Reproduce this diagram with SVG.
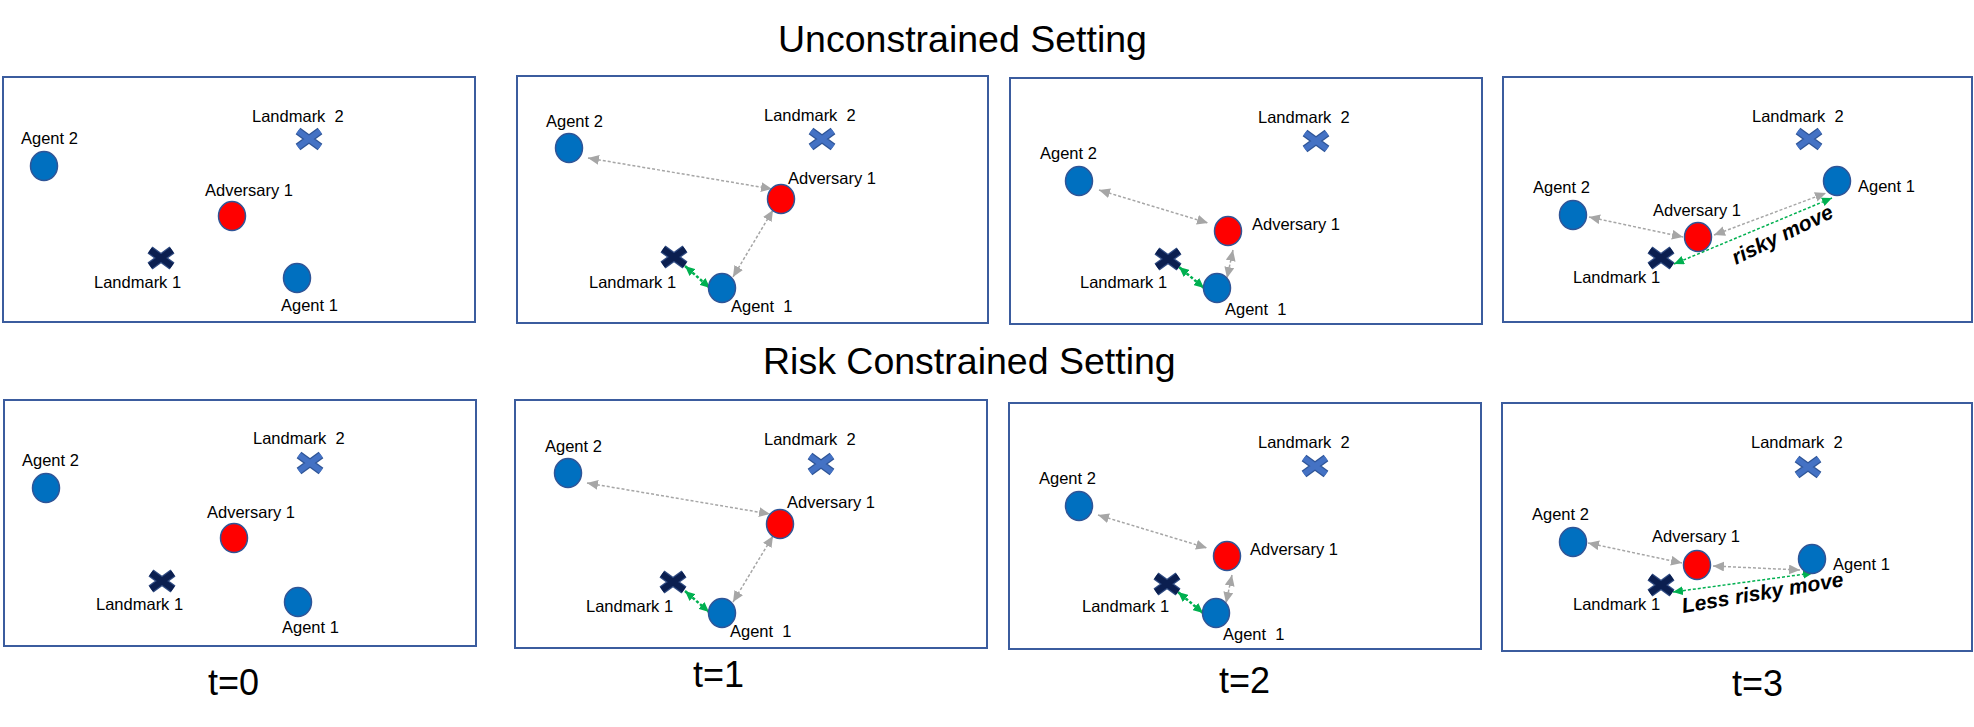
<svg xmlns="http://www.w3.org/2000/svg" width="1974" height="727" viewBox="0 0 1974 727">
<style>
text{font-family:"Liberation Sans",Arial,sans-serif;fill:#000}
.lbl{font-size:16.5px;white-space:pre}
.title{font-size:37.5px}
.tl{font-size:36px}
.bi{font-size:21px;font-weight:bold;font-style:italic}
.panel{fill:#fff;stroke:#3B5C9E;stroke-width:2}
.agent{fill:#0070C0;stroke:#2F5597;stroke-width:1.5}
.adv{fill:#FF0000;stroke:#2F5597;stroke-width:1.5}
.gray{fill:none;stroke:#A6A6A6;stroke-width:1.5;stroke-dasharray:3 2;marker-start:url(#hg);marker-end:url(#hg)}
.green{fill:none;stroke:#00B050;stroke-width:2.5;stroke-dasharray:3 2;marker-start:url(#hgr);marker-end:url(#hgr)}
.green2{fill:none;stroke:#00B050;stroke-width:1.5;stroke-dasharray:3 2;marker-start:url(#hgr);marker-end:url(#hgr)}
</style>
<defs>
<marker id="hg" viewBox="0 0 10 9" refX="10" refY="4.5" markerWidth="11" markerHeight="10" markerUnits="userSpaceOnUse" orient="auto-start-reverse"><path d="M0,0 L10,4.5 L0,9 z" fill="#A6A6A6"/></marker>
<marker id="hgr" viewBox="0 0 10 9" refX="10" refY="4.5" markerWidth="10" markerHeight="9" markerUnits="userSpaceOnUse" orient="auto-start-reverse"><path d="M0,0 L10,4.5 L0,9 z" fill="#00B050"/></marker>
<g id="lm1">
<path d="M-11,-8 L11,8 M-11,8 L11,-8" stroke="#2F4A80" stroke-width="8.5" fill="none"/>
<path d="M-11,-8 L11,8 M-11,8 L11,-8" stroke="#0B1F50" stroke-width="6" fill="none"/>
</g>
<g id="lm2">
<path d="M-11,-8 L11,8 M-11,8 L11,-8" stroke="#2F5597" stroke-width="8" fill="none"/>
<path d="M-11,-8 L11,8 M-11,8 L11,-8" stroke="#4472C4" stroke-width="5.5" fill="none"/>
</g>
</defs>
<rect width="1974" height="727" fill="#fff"/>

<g id="titles">
<text class="title" x="778" y="52">Unconstrained Setting</text>
<text class="title" x="763" y="374">Risk Constrained Setting</text>
<text class="tl" x="208" y="695">t=0</text>
<text class="tl" x="693" y="687">t=1</text>
<text class="tl" x="1219" y="693">t=2</text>
<text class="tl" x="1732" y="696">t=3</text>
</g>

<g id="panels">
<rect class="panel" x="3" y="77" width="472" height="245"/>
<rect class="panel" x="517" y="76" width="471" height="247"/>
<rect class="panel" x="1010" y="78" width="472" height="246"/>
<rect class="panel" x="1503" y="77" width="469" height="245"/>
<rect class="panel" x="4" y="400" width="472" height="246"/>
<rect class="panel" x="515" y="400" width="472" height="248"/>
<rect class="panel" x="1009" y="403" width="472" height="246"/>
<rect class="panel" x="1502" y="403" width="470" height="248"/>
</g>

<g id="connectors">
<line class="gray" x1="588" y1="158" x2="772" y2="189"/>
<line class="gray" x1="773" y1="210" x2="733" y2="277"/>
<line class="green" x1="685" y1="266" x2="710" y2="288"/>
<line class="gray" x1="1099" y1="190" x2="1208" y2="223"/>
<line class="gray" x1="1233" y1="250" x2="1227" y2="278"/>
<line class="green" x1="1179" y1="267" x2="1204" y2="288"/>
<line class="gray" x1="1589" y1="217" x2="1683" y2="237"/>
<line class="gray" x1="1714" y1="235" x2="1826" y2="193"/>
<line class="green2" x1="1674" y1="264" x2="1832" y2="198"/>
<line class="gray" x1="587" y1="483" x2="770" y2="514"/>
<line class="gray" x1="773" y1="536" x2="733" y2="602"/>
<line class="green" x1="685" y1="591" x2="709" y2="612"/>
<line class="gray" x1="1098" y1="515" x2="1207" y2="548"/>
<line class="gray" x1="1232" y1="575" x2="1226" y2="603"/>
<line class="green" x1="1178" y1="592" x2="1203" y2="613"/>
<line class="gray" x1="1588" y1="543" x2="1682" y2="563"/>
<line class="gray" x1="1713" y1="566" x2="1800" y2="570"/>
<line class="green2" x1="1673" y1="592" x2="1813" y2="573"/>
</g>

<!-- Panel 1 -->
<g id="p1-agent2"><ellipse class="agent" cx="44" cy="166" rx="13.5" ry="14.5"/><text class="lbl" x="21" y="144">Agent 2</text></g>
<g id="p1-landmark2"><use href="#lm2" x="309" y="139"/><text class="lbl" x="252" y="122">Landmark  2</text></g>
<g id="p1-adversary1"><ellipse class="adv" cx="232" cy="216" rx="13.5" ry="14.5"/><text class="lbl" x="205" y="196">Adversary 1</text></g>
<g id="p1-landmark1"><use href="#lm1" x="161" y="258"/><text class="lbl" x="94" y="288">Landmark 1</text></g>
<g id="p1-agent1"><ellipse class="agent" cx="297" cy="278" rx="13.5" ry="14.5"/><text class="lbl" x="281" y="311">Agent 1</text></g>

<!-- Panel 2 -->
<g id="p2-agent2"><ellipse class="agent" cx="569" cy="148" rx="13.5" ry="14.5"/><text class="lbl" x="546" y="127">Agent 2</text></g>
<g id="p2-landmark2"><use href="#lm2" x="822" y="139"/><text class="lbl" x="764" y="121">Landmark  2</text></g>
<g id="p2-adversary1"><ellipse class="adv" cx="781" cy="199" rx="13.5" ry="14.5"/><text class="lbl" x="788" y="184">Adversary 1</text></g>
<g id="p2-landmark1"><use href="#lm1" x="674" y="257"/><text class="lbl" x="589" y="288">Landmark 1</text></g>
<g id="p2-agent1"><ellipse class="agent" cx="722" cy="288" rx="13.5" ry="14.5"/><text class="lbl" x="731" y="312">Agent  1</text></g>

<!-- Panel 3 -->
<g id="p3-landmark2"><use href="#lm2" x="1316" y="141"/><text class="lbl" x="1258" y="123">Landmark  2</text></g>
<g id="p3-agent2"><ellipse class="agent" cx="1079" cy="181" rx="13.5" ry="14.5"/><text class="lbl" x="1040" y="159">Agent 2</text></g>
<g id="p3-adversary1"><ellipse class="adv" cx="1228" cy="231" rx="13.5" ry="14.5"/><text class="lbl" x="1252" y="230">Adversary 1</text></g>
<g id="p3-landmark1"><use href="#lm1" x="1168" y="259"/><text class="lbl" x="1080" y="288">Landmark 1</text></g>
<g id="p3-agent1"><ellipse class="agent" cx="1217" cy="288" rx="13.5" ry="14.5"/><text class="lbl" x="1225" y="315">Agent  1</text></g>

<!-- Panel 4 -->
<g id="p4-landmark2"><use href="#lm2" x="1809" y="139"/><text class="lbl" x="1752" y="122">Landmark  2</text></g>
<g id="p4-agent1"><ellipse class="agent" cx="1837" cy="181" rx="13.5" ry="14.5"/><text class="lbl" x="1858" y="192">Agent 1</text></g>
<g id="p4-agent2"><ellipse class="agent" cx="1573" cy="215" rx="13.5" ry="14.5"/><text class="lbl" x="1533" y="193">Agent 2</text></g>
<g id="p4-adversary1"><ellipse class="adv" cx="1698" cy="237" rx="13.5" ry="14.5"/><text class="lbl" x="1653" y="216">Adversary 1</text></g>
<g id="p4-landmark1"><use href="#lm1" x="1661" y="258"/><text class="lbl" x="1573" y="283">Landmark 1</text></g>
<g id="p4-risky"><text class="bi" transform="translate(1736,265) rotate(-26)">risky move</text></g>

<!-- Panel 5 -->
<g id="p5-landmark2"><use href="#lm2" x="310" y="463"/><text class="lbl" x="253" y="444">Landmark  2</text></g>
<g id="p5-agent2"><ellipse class="agent" cx="46" cy="488" rx="13.5" ry="14.5"/><text class="lbl" x="22" y="466">Agent 2</text></g>
<g id="p5-adversary1"><ellipse class="adv" cx="234" cy="538" rx="13.5" ry="14.5"/><text class="lbl" x="207" y="518">Adversary 1</text></g>
<g id="p5-landmark1"><use href="#lm1" x="162" y="581"/><text class="lbl" x="96" y="610">Landmark 1</text></g>
<g id="p5-agent1"><ellipse class="agent" cx="298" cy="602" rx="13.5" ry="14.5"/><text class="lbl" x="282" y="633">Agent 1</text></g>

<!-- Panel 6 -->
<g id="p6-agent2"><ellipse class="agent" cx="568" cy="473" rx="13.5" ry="14.5"/><text class="lbl" x="545" y="452">Agent 2</text></g>
<g id="p6-landmark2"><use href="#lm2" x="821" y="464"/><text class="lbl" x="764" y="445">Landmark  2</text></g>
<g id="p6-adversary1"><ellipse class="adv" cx="780" cy="524" rx="13.5" ry="14.5"/><text class="lbl" x="787" y="508">Adversary 1</text></g>
<g id="p6-landmark1"><use href="#lm1" x="673" y="582"/><text class="lbl" x="586" y="612">Landmark 1</text></g>
<g id="p6-agent1"><ellipse class="agent" cx="722" cy="613" rx="13.5" ry="14.5"/><text class="lbl" x="730" y="637">Agent  1</text></g>

<!-- Panel 7 -->
<g id="p7-landmark2"><use href="#lm2" x="1315" y="466"/><text class="lbl" x="1258" y="448">Landmark  2</text></g>
<g id="p7-agent2"><ellipse class="agent" cx="1079" cy="506" rx="13.5" ry="14.5"/><text class="lbl" x="1039" y="484">Agent 2</text></g>
<g id="p7-adversary1"><ellipse class="adv" cx="1227" cy="556" rx="13.5" ry="14.5"/><text class="lbl" x="1250" y="555">Adversary 1</text></g>
<g id="p7-landmark1"><use href="#lm1" x="1167" y="584"/><text class="lbl" x="1082" y="612">Landmark 1</text></g>
<g id="p7-agent1"><ellipse class="agent" cx="1216" cy="613" rx="13.5" ry="14.5"/><text class="lbl" x="1223" y="640">Agent  1</text></g>

<!-- Panel 8 -->
<g id="p8-landmark2"><use href="#lm2" x="1808" y="467"/><text class="lbl" x="1751" y="448">Landmark  2</text></g>
<g id="p8-agent2"><ellipse class="agent" cx="1573" cy="542" rx="13.5" ry="14.5"/><text class="lbl" x="1532" y="520">Agent 2</text></g>
<g id="p8-adversary1"><ellipse class="adv" cx="1697" cy="565" rx="13.5" ry="14.5"/><text class="lbl" x="1652" y="542">Adversary 1</text></g>
<g id="p8-agent1"><ellipse class="agent" cx="1812" cy="559" rx="13.5" ry="14.5"/><text class="lbl" x="1833" y="570">Agent 1</text></g>
<g id="p8-landmark1"><use href="#lm1" x="1661" y="585"/><text class="lbl" x="1573" y="610">Landmark 1</text></g>
<g id="p8-lessrisky"><text class="bi" transform="translate(1683,613) rotate(-9.5)">Less risky move</text></g>
</svg>
